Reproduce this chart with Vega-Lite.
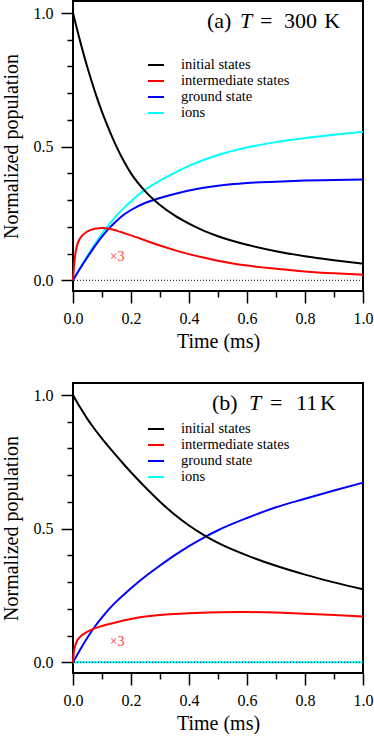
{
  "$schema": "https://vega.github.io/schema/vega-lite/v6.json",
  "padding": {"left": 0, "top": 0, "right": 0, "bottom": 0},
  "background": "white",
  "config": {
    "view": {"stroke": "black", "strokeWidth": 2, "strokeOpacity": 1}
  },
  "datasets": {
    "a": [
      {"t": 0, "s": "ions", "v": 0}, {"t": 0.025, "s": "ions", "v": 0.047}, {"t": 0.05, "s": "ions", "v": 0.092}, {"t": 0.075, "s": "ions", "v": 0.135}, {"t": 0.1, "s": "ions", "v": 0.175}, {"t": 0.125, "s": "ions", "v": 0.21}, {"t": 0.15, "s": "ions", "v": 0.242}, {"t": 0.175, "s": "ions", "v": 0.27}, {"t": 0.2, "s": "ions", "v": 0.296}, {"t": 0.25, "s": "ions", "v": 0.34}, {"t": 0.3, "s": "ions", "v": 0.373}, {"t": 0.35, "s": "ions", "v": 0.402}, {"t": 0.4, "s": "ions", "v": 0.428}, {"t": 0.45, "s": "ions", "v": 0.45}, {"t": 0.5, "s": "ions", "v": 0.469}, {"t": 0.6, "s": "ions", "v": 0.497}, {"t": 0.7, "s": "ions", "v": 0.517}, {"t": 0.8, "s": "ions", "v": 0.532}, {"t": 0.9, "s": "ions", "v": 0.545}, {"t": 1.0, "s": "ions", "v": 0.556},
      {"t": 0, "s": "ground state", "v": 0}, {"t": 0.025, "s": "ground state", "v": 0.045}, {"t": 0.05, "s": "ground state", "v": 0.087}, {"t": 0.075, "s": "ground state", "v": 0.127}, {"t": 0.1, "s": "ground state", "v": 0.163}, {"t": 0.125, "s": "ground state", "v": 0.195}, {"t": 0.15, "s": "ground state", "v": 0.222}, {"t": 0.175, "s": "ground state", "v": 0.245}, {"t": 0.2, "s": "ground state", "v": 0.263}, {"t": 0.25, "s": "ground state", "v": 0.29}, {"t": 0.3, "s": "ground state", "v": 0.308}, {"t": 0.35, "s": "ground state", "v": 0.323}, {"t": 0.4, "s": "ground state", "v": 0.336}, {"t": 0.45, "s": "ground state", "v": 0.346}, {"t": 0.5, "s": "ground state", "v": 0.354}, {"t": 0.6, "s": "ground state", "v": 0.364}, {"t": 0.7, "s": "ground state", "v": 0.369}, {"t": 0.8, "s": "ground state", "v": 0.373}, {"t": 0.9, "s": "ground state", "v": 0.375}, {"t": 1.0, "s": "ground state", "v": 0.377},
      {"t": 0, "s": "initial states", "v": 1.0}, {"t": 0.025, "s": "initial states", "v": 0.893}, {"t": 0.05, "s": "initial states", "v": 0.795}, {"t": 0.075, "s": "initial states", "v": 0.708}, {"t": 0.1, "s": "initial states", "v": 0.63}, {"t": 0.125, "s": "initial states", "v": 0.562}, {"t": 0.15, "s": "initial states", "v": 0.5}, {"t": 0.175, "s": "initial states", "v": 0.446}, {"t": 0.2, "s": "initial states", "v": 0.4}, {"t": 0.25, "s": "initial states", "v": 0.332}, {"t": 0.3, "s": "initial states", "v": 0.282}, {"t": 0.35, "s": "initial states", "v": 0.243}, {"t": 0.4, "s": "initial states", "v": 0.212}, {"t": 0.45, "s": "initial states", "v": 0.186}, {"t": 0.5, "s": "initial states", "v": 0.165}, {"t": 0.6, "s": "initial states", "v": 0.133}, {"t": 0.7, "s": "initial states", "v": 0.109}, {"t": 0.8, "s": "initial states", "v": 0.09}, {"t": 0.9, "s": "initial states", "v": 0.075}, {"t": 1.0, "s": "initial states", "v": 0.062},
      {"t": 0, "s": "intermediate states", "v": 0}, {"t": 0.005, "s": "intermediate states", "v": 0.07}, {"t": 0.01, "s": "intermediate states", "v": 0.112}, {"t": 0.02, "s": "intermediate states", "v": 0.148}, {"t": 0.03, "s": "intermediate states", "v": 0.165}, {"t": 0.05, "s": "intermediate states", "v": 0.183}, {"t": 0.075, "s": "intermediate states", "v": 0.193}, {"t": 0.1, "s": "intermediate states", "v": 0.196}, {"t": 0.125, "s": "intermediate states", "v": 0.193}, {"t": 0.15, "s": "intermediate states", "v": 0.186}, {"t": 0.175, "s": "intermediate states", "v": 0.177}, {"t": 0.2, "s": "intermediate states", "v": 0.168}, {"t": 0.25, "s": "intermediate states", "v": 0.149}, {"t": 0.3, "s": "intermediate states", "v": 0.13}, {"t": 0.35, "s": "intermediate states", "v": 0.113}, {"t": 0.4, "s": "intermediate states", "v": 0.098}, {"t": 0.45, "s": "intermediate states", "v": 0.085}, {"t": 0.5, "s": "intermediate states", "v": 0.073}, {"t": 0.6, "s": "intermediate states", "v": 0.055}, {"t": 0.7, "s": "intermediate states", "v": 0.043}, {"t": 0.8, "s": "intermediate states", "v": 0.033}, {"t": 0.9, "s": "intermediate states", "v": 0.026}, {"t": 1.0, "s": "intermediate states", "v": 0.021}
    ],
    "b": [
      {"t": 0, "s": "ions", "v": 0}, {"t": 0.5, "s": "ions", "v": 0}, {"t": 1.0, "s": "ions", "v": 0},
      {"t": 0, "s": "ground state", "v": 0}, {"t": 0.025, "s": "ground state", "v": 0.048}, {"t": 0.05, "s": "ground state", "v": 0.093}, {"t": 0.075, "s": "ground state", "v": 0.133}, {"t": 0.1, "s": "ground state", "v": 0.168}, {"t": 0.125, "s": "ground state", "v": 0.2}, {"t": 0.15, "s": "ground state", "v": 0.228}, {"t": 0.175, "s": "ground state", "v": 0.253}, {"t": 0.2, "s": "ground state", "v": 0.277}, {"t": 0.25, "s": "ground state", "v": 0.322}, {"t": 0.3, "s": "ground state", "v": 0.362}, {"t": 0.35, "s": "ground state", "v": 0.4}, {"t": 0.4, "s": "ground state", "v": 0.435}, {"t": 0.45, "s": "ground state", "v": 0.466}, {"t": 0.5, "s": "ground state", "v": 0.494}, {"t": 0.6, "s": "ground state", "v": 0.54}, {"t": 0.7, "s": "ground state", "v": 0.58}, {"t": 0.8, "s": "ground state", "v": 0.612}, {"t": 0.9, "s": "ground state", "v": 0.643}, {"t": 1.0, "s": "ground state", "v": 0.672},
      {"t": 0, "s": "initial states", "v": 1.0}, {"t": 0.025, "s": "initial states", "v": 0.953}, {"t": 0.05, "s": "initial states", "v": 0.91}, {"t": 0.075, "s": "initial states", "v": 0.872}, {"t": 0.1, "s": "initial states", "v": 0.837}, {"t": 0.125, "s": "initial states", "v": 0.804}, {"t": 0.15, "s": "initial states", "v": 0.772}, {"t": 0.175, "s": "initial states", "v": 0.741}, {"t": 0.2, "s": "initial states", "v": 0.711}, {"t": 0.25, "s": "initial states", "v": 0.654}, {"t": 0.3, "s": "initial states", "v": 0.601}, {"t": 0.35, "s": "initial states", "v": 0.553}, {"t": 0.4, "s": "initial states", "v": 0.512}, {"t": 0.45, "s": "initial states", "v": 0.477}, {"t": 0.5, "s": "initial states", "v": 0.447}, {"t": 0.6, "s": "initial states", "v": 0.4}, {"t": 0.7, "s": "initial states", "v": 0.361}, {"t": 0.8, "s": "initial states", "v": 0.328}, {"t": 0.9, "s": "initial states", "v": 0.299}, {"t": 1.0, "s": "initial states", "v": 0.273},
      {"t": 0, "s": "intermediate states", "v": 0}, {"t": 0.003, "s": "intermediate states", "v": 0.04}, {"t": 0.007, "s": "intermediate states", "v": 0.06}, {"t": 0.013, "s": "intermediate states", "v": 0.078}, {"t": 0.02, "s": "intermediate states", "v": 0.09}, {"t": 0.03, "s": "intermediate states", "v": 0.101}, {"t": 0.05, "s": "intermediate states", "v": 0.115}, {"t": 0.075, "s": "intermediate states", "v": 0.127}, {"t": 0.1, "s": "intermediate states", "v": 0.136}, {"t": 0.15, "s": "intermediate states", "v": 0.15}, {"t": 0.2, "s": "intermediate states", "v": 0.162}, {"t": 0.25, "s": "intermediate states", "v": 0.171}, {"t": 0.3, "s": "intermediate states", "v": 0.177}, {"t": 0.35, "s": "intermediate states", "v": 0.181}, {"t": 0.4, "s": "intermediate states", "v": 0.184}, {"t": 0.5, "s": "intermediate states", "v": 0.187}, {"t": 0.6, "s": "intermediate states", "v": 0.188}, {"t": 0.7, "s": "intermediate states", "v": 0.186}, {"t": 0.8, "s": "intermediate states", "v": 0.182}, {"t": 0.9, "s": "intermediate states", "v": 0.177}, {"t": 1.0, "s": "intermediate states", "v": 0.171}
    ]
  },
  "spacing": 30,
  "resolve": {"scale": {"color": "independent"}, "legend": {"color": "independent"}},
  "vconcat": [
    {
      "width": 290, "height": 290,
      "view": {"stroke": "black", "strokeWidth": 2, "strokeOpacity": 1},
      "resolve": {"axis": {"x": "independent", "y": "independent"}},
      "layer": [
        {
          "data": {"name": "a"},
          "mark": {"type": "line", "strokeWidth": 2, "interpolate": "monotone"},
          "encoding": {
            "x": {"field": "t", "type": "quantitative", "scale": {"domain": [0, 1], "nice": false, "zero": false},
              "axis": {"orient": "bottom", "title": "Time (ms)", "titlePadding": 5, "titleFont": "Liberation Serif", "titleFontSize": 20, "titleFontWeight": "normal", "titleColor": "black",
                "ticks": true, "tickSize": 12, "tickColor": "black", "tickWidth": 1.5, "tickOpacity": 1, "domain": false, "grid": false,
                "labelFont": "Liberation Serif", "labelFontSize": 16, "labelColor": "black", "labelPadding": 7, "labelFlush": false, "labelOverlap": false,
                "values": [0, 0.2, 0.4, 0.6, 0.8, 1], "format": ".1f"}},
            "y": {"field": "v", "type": "quantitative", "scale": {"domain": [-0.04, 1.045], "nice": false, "zero": false},
              "axis": {"orient": "left", "title": "Normalized population", "titlePadding": 12, "titleFont": "Liberation Serif", "titleFontSize": 20, "titleFontWeight": "normal", "titleColor": "black",
                "ticks": true, "tickSize": 12, "tickColor": "black", "tickWidth": 1.5, "tickOpacity": 1, "domain": false, "grid": false,
                "labelFont": "Liberation Serif", "labelFontSize": 16, "labelColor": "black", "labelPadding": 8, "labelFlush": false, "labelOverlap": false,
                "values": [0, 0.5, 1], "format": ".1f"}},
            "color": {"field": "s", "type": "nominal",
              "scale": {"domain": ["initial states", "intermediate states", "ground state", "ions"], "range": ["#000000", "#ff0000", "#0000ff", "#00ffff"]},
              "legend": {"orient": "none", "legendX": 74, "legendY": 55, "title": null, "symbolType": "stroke", "symbolSize": 256, "symbolStrokeWidth": 2,
                "labelFont": "Liberation Serif", "labelFontSize": 14.5, "labelColor": "black", "labelOffset": 16, "rowPadding": 0, "padding": 0}}
          }
        },
        {"data": {"values": [{}]}, "mark": {"type": "rule", "color": "black", "strokeWidth": 1, "strokeDash": [1, 2]},
          "encoding": {"y": {"datum": 0, "type": "quantitative", "axis": null}}},
        {"data": {"values": [{}]}, "mark": {"type": "text", "text": "\u00d73", "color": "#ff4040", "font": "Liberation Serif", "fontSize": 14, "align": "center", "baseline": "middle"},
          "encoding": {
            "x": {"datum": 0.152, "type": "quantitative", "axis": {"orient": "bottom", "title": null, "labels": false, "ticks": true, "tickSize": 6, "tickColor": "black", "tickWidth": 1.5, "tickOpacity": 1, "domain": false, "grid": false, "values": [0.1, 0.3, 0.5, 0.7, 0.9]}},
            "y": {"datum": 0.086, "type": "quantitative", "axis": {"orient": "left", "title": null, "labels": false, "ticks": true, "tickSize": 6, "tickColor": "black", "tickWidth": 1.5, "tickOpacity": 1, "domain": false, "grid": false, "values": [0.1, 0.2, 0.3, 0.4, 0.6, 0.7, 0.8, 0.9]}}
          }},
        {"data": {"values": [{}]}, "mark": {"type": "text", "text": "(a)", "font": "Liberation Serif", "fontSize": 22, "align": "left", "baseline": "alphabetic", "color": "black"}, "encoding": {"x": {"datum": 0.462, "type": "quantitative", "axis": null}, "y": {"datum": 0.944, "type": "quantitative", "axis": null}}},
        {"data": {"values": [{}]}, "mark": {"type": "text", "text": "T", "font": "Liberation Serif", "fontSize": 22, "fontStyle": "italic", "align": "left", "baseline": "alphabetic", "color": "black"}, "encoding": {"x": {"datum": 0.576, "type": "quantitative", "axis": null}, "y": {"datum": 0.944, "type": "quantitative", "axis": null}}},
        {"data": {"values": [{}]}, "mark": {"type": "text", "text": "=", "font": "Liberation Serif", "fontSize": 22, "align": "left", "baseline": "alphabetic", "color": "black"}, "encoding": {"x": {"datum": 0.645, "type": "quantitative", "axis": null}, "y": {"datum": 0.944, "type": "quantitative", "axis": null}}},
        {"data": {"values": [{}]}, "mark": {"type": "text", "text": "300", "font": "Liberation Serif", "fontSize": 22, "align": "left", "baseline": "alphabetic", "color": "black"}, "encoding": {"x": {"datum": 0.728, "type": "quantitative", "axis": null}, "y": {"datum": 0.944, "type": "quantitative", "axis": null}}},
        {"data": {"values": [{}]}, "mark": {"type": "text", "text": "K", "font": "Liberation Serif", "fontSize": 22, "align": "left", "baseline": "alphabetic", "color": "black"}, "encoding": {"x": {"datum": 0.866, "type": "quantitative", "axis": null}, "y": {"datum": 0.944, "type": "quantitative", "axis": null}}}
      ]
    },
    {
      "width": 290, "height": 290,
      "view": {"stroke": "black", "strokeWidth": 2, "strokeOpacity": 1},
      "resolve": {"axis": {"x": "independent", "y": "independent"}},
      "layer": [
        {
          "data": {"name": "b"},
          "mark": {"type": "line", "strokeWidth": 2, "interpolate": "monotone"},
          "encoding": {
            "x": {"field": "t", "type": "quantitative", "scale": {"domain": [0, 1], "nice": false, "zero": false},
              "axis": {"orient": "bottom", "title": "Time (ms)", "titlePadding": 5, "titleFont": "Liberation Serif", "titleFontSize": 20, "titleFontWeight": "normal", "titleColor": "black",
                "ticks": true, "tickSize": 12, "tickColor": "black", "tickWidth": 1.5, "tickOpacity": 1, "domain": false, "grid": false,
                "labelFont": "Liberation Serif", "labelFontSize": 16, "labelColor": "black", "labelPadding": 7, "labelFlush": false, "labelOverlap": false,
                "values": [0, 0.2, 0.4, 0.6, 0.8, 1], "format": ".1f"}},
            "y": {"field": "v", "type": "quantitative", "scale": {"domain": [-0.04, 1.045], "nice": false, "zero": false},
              "axis": {"orient": "left", "title": "Normalized population", "titlePadding": 12, "titleFont": "Liberation Serif", "titleFontSize": 20, "titleFontWeight": "normal", "titleColor": "black",
                "ticks": true, "tickSize": 12, "tickColor": "black", "tickWidth": 1.5, "tickOpacity": 1, "domain": false, "grid": false,
                "labelFont": "Liberation Serif", "labelFontSize": 16, "labelColor": "black", "labelPadding": 8, "labelFlush": false, "labelOverlap": false,
                "values": [0, 0.5, 1], "format": ".1f"}},
            "color": {"field": "s", "type": "nominal",
              "scale": {"domain": ["initial states", "intermediate states", "ground state", "ions"], "range": ["#000000", "#ff0000", "#0000ff", "#00ffff"]},
              "legend": {"orient": "none", "legendX": 74, "legendY": 37, "title": null, "symbolType": "stroke", "symbolSize": 256, "symbolStrokeWidth": 2,
                "labelFont": "Liberation Serif", "labelFontSize": 14.5, "labelColor": "black", "labelOffset": 16, "rowPadding": 0, "padding": 0}}
          }
        },
        {"data": {"values": [{}]}, "mark": {"type": "rule", "color": "black", "strokeWidth": 1, "strokeDash": [1, 2]},
          "encoding": {"y": {"datum": 0, "type": "quantitative", "axis": null}}},
        {"data": {"values": [{}]}, "mark": {"type": "text", "text": "\u00d73", "color": "#ff4040", "font": "Liberation Serif", "fontSize": 14, "align": "center", "baseline": "middle"},
          "encoding": {
            "x": {"datum": 0.152, "type": "quantitative", "axis": {"orient": "bottom", "title": null, "labels": false, "ticks": true, "tickSize": 6, "tickColor": "black", "tickWidth": 1.5, "tickOpacity": 1, "domain": false, "grid": false, "values": [0.1, 0.3, 0.5, 0.7, 0.9]}},
            "y": {"datum": 0.076, "type": "quantitative", "axis": {"orient": "left", "title": null, "labels": false, "ticks": true, "tickSize": 6, "tickColor": "black", "tickWidth": 1.5, "tickOpacity": 1, "domain": false, "grid": false, "values": [0.1, 0.2, 0.3, 0.4, 0.6, 0.7, 0.8, 0.9]}}
          }},
        {"data": {"values": [{}]}, "mark": {"type": "text", "text": "(b)", "font": "Liberation Serif", "fontSize": 22, "align": "left", "baseline": "alphabetic", "color": "black"}, "encoding": {"x": {"datum": 0.479, "type": "quantitative", "axis": null}, "y": {"datum": 0.944, "type": "quantitative", "axis": null}}},
        {"data": {"values": [{}]}, "mark": {"type": "text", "text": "T", "font": "Liberation Serif", "fontSize": 22, "fontStyle": "italic", "align": "left", "baseline": "alphabetic", "color": "black"}, "encoding": {"x": {"datum": 0.607, "type": "quantitative", "axis": null}, "y": {"datum": 0.944, "type": "quantitative", "axis": null}}},
        {"data": {"values": [{}]}, "mark": {"type": "text", "text": "=", "font": "Liberation Serif", "fontSize": 22, "align": "left", "baseline": "alphabetic", "color": "black"}, "encoding": {"x": {"datum": 0.679, "type": "quantitative", "axis": null}, "y": {"datum": 0.944, "type": "quantitative", "axis": null}}},
        {"data": {"values": [{}]}, "mark": {"type": "text", "text": "11", "font": "Liberation Serif", "fontSize": 22, "align": "left", "baseline": "alphabetic", "color": "black"}, "encoding": {"x": {"datum": 0.769, "type": "quantitative", "axis": null}, "y": {"datum": 0.944, "type": "quantitative", "axis": null}}},
        {"data": {"values": [{}]}, "mark": {"type": "text", "text": "K", "font": "Liberation Serif", "fontSize": 22, "align": "left", "baseline": "alphabetic", "color": "black"}, "encoding": {"x": {"datum": 0.852, "type": "quantitative", "axis": null}, "y": {"datum": 0.944, "type": "quantitative", "axis": null}}}
      ]
    }
  ]
}
